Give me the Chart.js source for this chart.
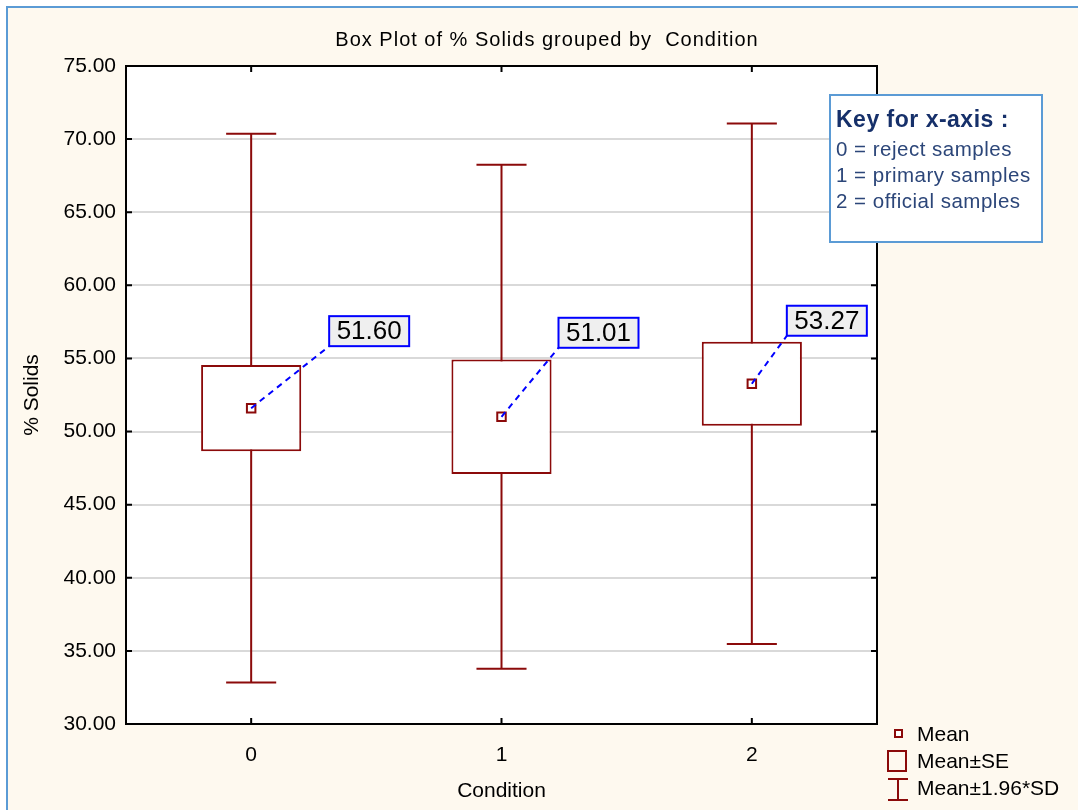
<!DOCTYPE html>
<html>
<head>
<meta charset="utf-8">
<title>Box Plot of % Solids grouped by Condition</title>
<script src="https://cdn.jsdelivr.net/npm/chart.js@4.4.1/dist/chart.umd.min.js"></script>
<style>
    html, body { margin: 0; padding: 0; background: #ffffff; }
    canvas { display: block; }
</style>
</head>
<body>
<canvas id="boxPlot" width="1078" height="810"></canvas>
<script>
// ── Data ──────────────────────────────────────────────────

const conditions = ['0', '1', '2'];
const means      = [51.60, 51.01, 53.27];
const stdErrors  = [2.95, 3.91, 2.88];
const sd196      = [18.76, 17.24, 17.80];   // 1.96 * SD

const chartTitle   = 'Box Plot of % Solids grouped by  Condition';
const keyTitle     = 'Key for x-axis :';
const keyLines     = ['0 = reject samples', '1 = primary samples', '2 = official samples'];
const legendLabels = ['Mean', 'Mean±SE', 'Mean±1.96*SD'];

// ── Styles ────────────────────────────────────────────────

const FONT  = '"Liberation Sans", Arial, sans-serif';
const RED   = '#8b0a0a';
const BLUE  = '#0000ff';
const NAVY  = '#16306a';

Chart.defaults.font.family = FONT;
Chart.defaults.color = '#000';

// label box position relative to its mean point (bottom-left corner)
const labelOffsets = [[78, -62], [57, -69], [35, -48]];

// ── Plugins ───────────────────────────────────────────────

const backgroundPlugin = {
    id: 'background',
    beforeDraw(chart) {
        const { ctx, width, height, chartArea: a } = chart;
        ctx.save();
        ctx.fillStyle = '#ffffff';
        ctx.fillRect(0, 0, width, height);
        ctx.fillStyle = '#fef9ef';
        ctx.fillRect(8, 8, width - 8, height - 8);
        ctx.fillStyle = '#5b9bd5';
        ctx.fillRect(6, 6, 2, height);
        ctx.fillRect(6, 6, width, 2);
        ctx.fillStyle = '#ffffff';
        ctx.fillRect(a.left, a.top, a.right - a.left, a.bottom - a.top);

        // title, centred on the whole figure
        ctx.fillStyle = '#000';
        ctx.font = `20px ${FONT}`;
        ctx.letterSpacing = '1px';
        ctx.textAlign = 'center';
        ctx.textBaseline = 'middle';
        ctx.fillText(chartTitle, 547, 40);
        ctx.restore();
    }
};

const whiskerPlugin = {
    id: 'whiskers',
    beforeDatasetsDraw(chart) {
        const { ctx, scales: { x, y } } = chart;
        const capHalf = (x.getPixelForValue(1) - x.getPixelForValue(0)) * 0.1;
        ctx.save();
        ctx.strokeStyle = RED;
        ctx.lineWidth = 2;
        conditions.forEach((c, i) => {
            const px  = x.getPixelForValue(i);
            const top = y.getPixelForValue(means[i] + sd196[i]);
            const bot = y.getPixelForValue(means[i] - sd196[i]);
            ctx.beginPath();
            ctx.moveTo(px, top);           ctx.lineTo(px, bot);
            ctx.moveTo(px - capHalf, top); ctx.lineTo(px + capHalf, top);
            ctx.moveTo(px - capHalf, bot); ctx.lineTo(px + capHalf, bot);
            ctx.stroke();
        });
        ctx.restore();
    }
};

const framePlugin = {
    id: 'frame',
    afterDatasetsDraw(chart) {
        const { ctx, chartArea: a, scales: { x, y } } = chart;
        ctx.save();
        ctx.strokeStyle = '#000';
        ctx.lineWidth = 2;
        ctx.strokeRect(a.left, a.top, a.right - a.left, a.bottom - a.top);
        // inward tick marks on all four sides
        ctx.beginPath();
        y.ticks.forEach(t => {
            const py = y.getPixelForValue(t.value);
            ctx.moveTo(a.left, py);  ctx.lineTo(a.left + 6, py);
            ctx.moveTo(a.right, py); ctx.lineTo(a.right - 6, py);
        });
        conditions.forEach((c, i) => {
            const px = x.getPixelForValue(i);
            ctx.moveTo(px, a.top);    ctx.lineTo(px, a.top + 6);
            ctx.moveTo(px, a.bottom); ctx.lineTo(px, a.bottom - 6);
        });
        ctx.stroke();
        ctx.restore();
    }
};

const meanLabelPlugin = {
    id: 'meanLabels',
    afterDatasetsDraw(chart) {
        const { ctx, scales: { x, y } } = chart;
        ctx.save();
        means.forEach((m, i) => {
            const px = x.getPixelForValue(i);
            const py = y.getPixelForValue(m);
            const bx = px + labelOffsets[i][0];
            const by = py + labelOffsets[i][1];

            ctx.strokeStyle = BLUE;
            ctx.lineWidth = 2;
            ctx.setLineDash([6, 5]);
            ctx.beginPath();
            ctx.moveTo(px, py);
            ctx.lineTo(bx, by);
            ctx.stroke();
            ctx.setLineDash([]);

            ctx.fillStyle = '#efefef';
            ctx.fillRect(bx, by - 30, 80, 30);
            ctx.strokeRect(bx, by - 30, 80, 30);

            ctx.fillStyle = '#000';
            ctx.font = `26px ${FONT}`;
            ctx.textAlign = 'center';
            ctx.textBaseline = 'middle';
            ctx.fillText(m.toFixed(2), bx + 40, by - 14);
        });
        ctx.restore();
    }
};

const keyPlugin = {
    id: 'keyBox',
    afterDraw(chart) {
        const { ctx } = chart;
        ctx.save();
        // key for the x-axis categories
        ctx.fillStyle = '#ffffff';
        ctx.fillRect(830, 95, 212, 147);
        ctx.strokeStyle = '#5b9bd5';
        ctx.lineWidth = 2;
        ctx.strokeRect(830, 95, 212, 147);

        ctx.filter = 'blur(0.4px)';
        ctx.textAlign = 'left';
        ctx.textBaseline = 'middle';
        ctx.letterSpacing = '0.5px';
        ctx.fillStyle = NAVY;
        ctx.font = `bold 23px ${FONT}`;
        ctx.fillText(keyTitle, 836, 121);
        ctx.fillStyle = '#2c4679';
        ctx.font = `20.5px ${FONT}`;
        keyLines.forEach((t, i) => ctx.fillText(t, 836, 150 + i * 26));
        ctx.filter = 'none';
        ctx.letterSpacing = '0px';

        // symbol legend
        ctx.strokeStyle = RED;
        ctx.lineWidth = 2;
        ctx.fillStyle = '#ffffff';
        ctx.fillRect(895, 730, 7, 7);
        ctx.strokeRect(895, 730, 7, 7);
        ctx.strokeRect(888, 751, 18, 20);
        ctx.beginPath();
        ctx.moveTo(888, 779); ctx.lineTo(908, 779);
        ctx.moveTo(898, 779); ctx.lineTo(898, 800);
        ctx.moveTo(888, 800); ctx.lineTo(908, 800);
        ctx.stroke();

        ctx.fillStyle = '#000';
        ctx.font = `21px ${FONT}`;
        legendLabels.forEach((t, i) => ctx.fillText(t, 917, 735 + i * 27));
        ctx.restore();
    }
};

// ── Chart ─────────────────────────────────────────────────

function renderBoxPlot() {
    const ctx = document.getElementById('boxPlot').getContext('2d');

    new Chart(ctx, {
        type: 'bar',
        plugins: [backgroundPlugin, whiskerPlugin, framePlugin, meanLabelPlugin, keyPlugin],
        data: {
            labels: conditions,
            datasets: [
                {
                    type: 'line',
                    label: 'Mean',
                    data: means,
                    showLine: false,
                    pointStyle: 'rect',
                    pointRadius: 6,
                    pointBorderWidth: 2,
                    pointBorderColor: RED,
                    pointBackgroundColor: '#ffffff',
                    order: 1
                },
                {
                    type: 'bar',
                    label: 'Mean±SE',
                    data: means.map((m, i) => [m - stdErrors[i], m + stdErrors[i]]),
                    backgroundColor: '#ffffff',
                    borderColor: RED,
                    borderWidth: 2,
                    borderSkipped: false,
                    barPercentage: 0.4,
                    categoryPercentage: 1,
                    order: 2
                }
            ]
        },
        options: {
            responsive: false,
            animation: false,
            devicePixelRatio: 1,
            layout: { padding: { left: 0, right: 201, top: 66, bottom: 0 } },
            plugins: {
                legend:  { display: false },
                tooltip: { enabled: false },
                title:   { display: false }
            },
            scales: {
                x: {
                    offset: true,
                    grid:   { display: false },
                    border: { display: false },
                    ticks:  { padding: 11, font: { size: 21 } },
                    title:  { display: true, text: 'Condition', font: { size: 21 }, padding: { top: 0, bottom: 6 } },
                    afterFit(s) { s.height = 86; }
                },
                y: {
                    min: 30,
                    max: 75,
                    grid:   { color: '#d9d9d9', lineWidth: 2, drawTicks: false },
                    border: { display: false },
                    ticks:  { stepSize: 5, padding: 10, font: { size: 21 }, callback: v => v.toFixed(2) },
                    title:  { display: true, text: '% Solids', font: { size: 21 }, padding: { top: 20, bottom: 0 } },
                    afterFit(s) { s.width = 126; }
                }
            }
        }
    });
}

renderBoxPlot();
</script>
</body>
</html>
